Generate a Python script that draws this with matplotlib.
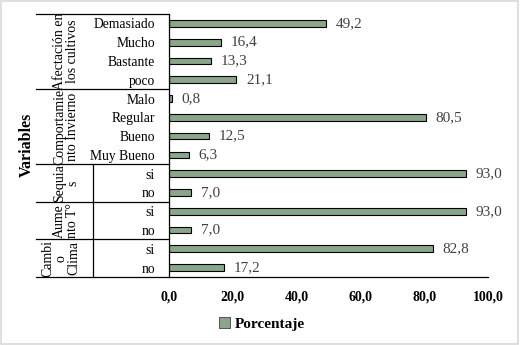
import numpy as np
import matplotlib
matplotlib.use("Agg")
import matplotlib.pyplot as plt
import matplotlib.transforms as mtransforms
from matplotlib.patches import Rectangle, Patch

# data (top to bottom as in the chart)
group_names = ["Afectación en\nlos cultivos", "Comportamie\nnto Invierno", "Sequia\ns", "Aume\nnto T°", "Cambi\no\nClima"]
group_sizes = [4, 4, 2, 2, 2]
categories = ["Demasiado", "Mucho", "Bastante", "poco",
              "Malo", "Regular", "Bueno", "Muy Bueno",
              "si", "no",
              "si", "no",
              "si", "no"]
values = [49.2, 16.4, 13.3, 21.1,
          0.8, 80.5, 12.5, 6.3,
          93.0, 7.0,
          93.0, 7.0,
          82.8, 17.2]
xticks = [0, 20, 40, 60, 80, 100]

plt.rcParams["font.family"] = ["Liberation Serif", "DejaVu Serif"]

W, H = 520, 345
fig = plt.figure(figsize=(W / 100, H / 100), dpi=100)
# plot area in pixels: x 169..488, y 14..277
ax = fig.add_axes([169 / W, 1 - 277 / H, (488 - 169) / W, (277 - 14) / H])

bar_color = "#8aa58a"
ypos = np.arange(len(categories))
bars = ax.barh(ypos, values, height=0.36, color=bar_color, edgecolor="black", linewidth=0.8)
ax.bar_label(bars, labels=[f"{v:.1f}".replace(".", ",") for v in values],
             padding=7, color="#404040", fontsize=11)

ax.set_ylim(len(categories) - 0.5, -0.5)
ax.set_xlim(0, 100)
ax.set_xticks(xticks)
ax.set_xticklabels([f"{t:.1f}".replace(".", ",") for t in xticks], fontweight="bold", fontsize=10)
ax.tick_params(axis="x", length=0, pad=10)
ax.set_yticks(ypos)
ax.set_yticklabels(categories, fontsize=9.8)
ax.tick_params(axis="y", length=0, pad=10)

for s in ["top", "right", "bottom"]:
    ax.spines[s].set_visible(False)
ax.spines["left"].set_linewidth(0.9)

# multi-level category axis drawn outside the plot area
blend = mtransforms.blended_transform_factory(ax.transAxes, ax.transData)

def px_to_ax(px):
    return (px - 169) / (488 - 169)

x_outer = px_to_ax(36)
x_mid = px_to_ax(93)
bounds = np.concatenate([[0], np.cumsum(group_sizes)]) - 0.5
for i, b in enumerate(bounds):
    x_end = 1.0 if i == len(bounds) - 1 else 0.0
    ax.plot([x_outer, x_end], [b, b], color="black", lw=0.9, transform=blend, clip_on=False)
# separator between label levels (only seen in the lower groups)
ax.plot([x_mid, x_mid], [bounds[2], bounds[-1]], color="black", lw=0.9, transform=blend, clip_on=False)

for name, b0, b1 in zip(group_names, bounds[:-1], bounds[1:]):
    n_lines = name.count("\n") + 1
    xc = px_to_ax(61) if n_lines == 3 else px_to_ax(66)
    ax.text(xc, (b0 + b1) / 2, name, rotation=90, ha="center", va="center",
            fontsize=10, linespacing=1.0, multialignment="center",
            transform=blend, clip_on=False)

fig.text(27 / W, 1 - 145 / H, "Variables", rotation=90, ha="center", va="center",
         fontsize=11.5, fontweight="bold")

fig.legend(handles=[Patch(facecolor=bar_color, edgecolor="#404040", linewidth=0.6)],
           labels=["Porcentaje"], loc="center", bbox_to_anchor=(262 / W, 1 - 324 / H),
           frameon=False, prop={"weight": "bold", "size": 11},
           handlelength=0.7, handleheight=0.7, handletextpad=0.3)

fig.patches.append(Rectangle((0.002, 0.003), 0.994, 0.994, transform=fig.transFigure,
                             fill=False, edgecolor="#d9d9d9", lw=1.2))

fig.savefig("out.png", dpi=100)
